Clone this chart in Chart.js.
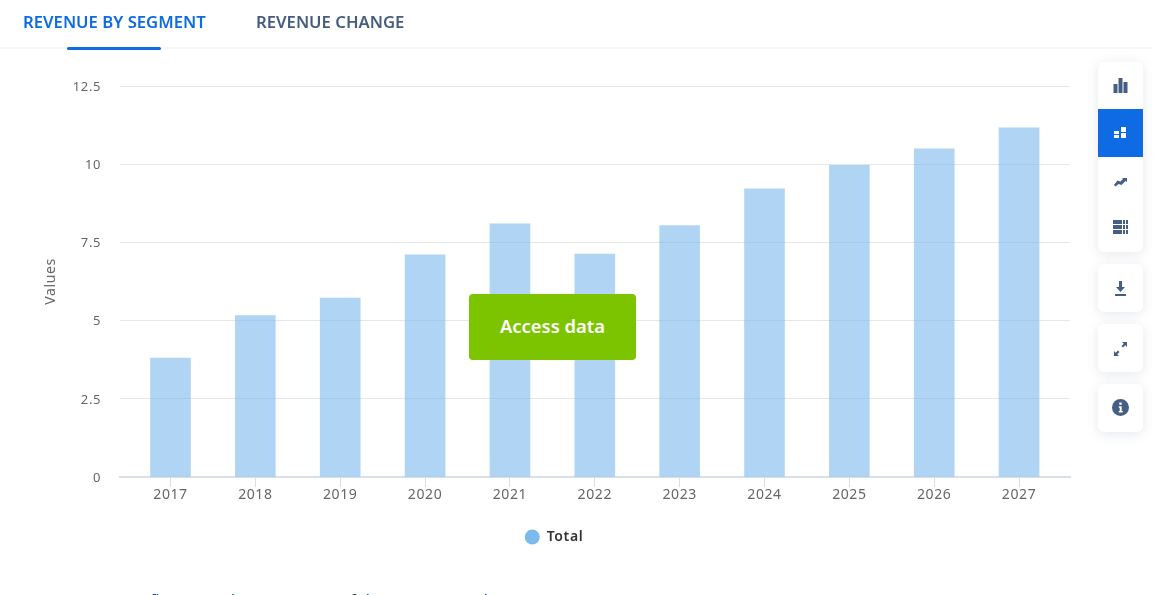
<!DOCTYPE html>
<html>
<head>
<meta charset="utf-8">
<script src="https://cdn.jsdelivr.net/npm/chart.js@4/dist/chart.umd.min.js"></script>
<style>
html, body { margin: 0; padding: 0; background: #fff; overflow: hidden; height: 595px; font-family: "Noto Sans", sans-serif; }
#wrap { position: relative; width: 1153px; height: 595px; overflow: hidden; }
#myChart { position: absolute; left: 0; top: 0; }
.tab { position: absolute; top: 11px; font-size: 16.7px; font-weight: 600; line-height: 22px; white-space: nowrap; }
#tabline { position: absolute; left: 0; top: 47px; width: 1153px; height: 2px; background: #f5f7fb; }
#tabmark { position: absolute; left: 67px; top: 47px; width: 94px; height: 3px; border-radius: 2px; background: #0f6be3; }
.card { position: absolute; left: 1098px; width: 45px; background: #fff; border-radius: 6px; box-shadow: 0 2px 12px rgba(70,90,130,.14); overflow: hidden; }
.btn { position: absolute; left: 0; width: 45px; height: 48px; }
.btn svg { position: absolute; left: 14px; width: 17px; height: 17px; fill: #455f84; }
#access { position: absolute; left: 469px; top: 294px; width: 167px; height: 66px; background: #7dc400; border-radius: 4px; color: #fff; font-size: 18.4px; font-weight: 600; line-height: 64px; text-align: center; }
#below { position: absolute; left: 150px; top: 588px; font-size: 16px; line-height: 24px; color: #1c3f73; white-space: nowrap; }
</style>
</head>
<body>
<div id="wrap">
  <canvas id="myChart" width="1153" height="595"></canvas>
  <div id="tabline"></div>
  <div id="tabmark"></div>
  <div class="tab" style="left:23px;color:#0f6be3">REVENUE BY SEGMENT</div>
  <div class="tab" style="left:256px;color:#465d80">REVENUE CHANGE</div>

  <div class="card" style="top:62px;height:190px">
    <div class="btn" style="top:0"><svg viewBox="0 0 17 17" style="top:15px"><path d="M1.500 7h4v9h-4zM6.500 1h4v15h-4zM11.500 5h4v11h-4z"/></svg></div>
    <div class="btn" style="top:47px;background:#0f6be3"><svg viewBox="0 0 17 17" style="top:16px;fill:#fff"><path d="M2 6h5v3H2zM2 10h5v3H2zM9 2h5v5H9zM9 8h5v5H9z"/></svg></div>
    <div class="btn" style="top:95px"><svg viewBox="0 0 17 17" style="top:15px"><path d="M2 13l3.500-4.500 3 1 2.500-2.500-1-1h5v4l-1.500-1-4 4-3-1-3 2.500z"/></svg></div>
    <div class="btn" style="top:143px"><svg viewBox="0 0 17 17" style="top:14px"><path d="M1 1h9v4H1zM11 1h2v4h-2zM14 1h2v4h-2zM1 6h9v4H1zM11 6h2v4h-2zM14 6h2v4h-2zM1 11h9v4H1zM11 11h2v4h-2zM14 11h2v4h-2z"/></svg></div>
  </div>
  <div class="card" style="top:264px;height:48px">
    <div class="btn" style="top:0"><svg viewBox="0 0 17 17" style="top:16px"><path d="M7 1h3v6h3l-4.500 5L4 7h3zM3 14h11v2H3z"/></svg></div>
  </div>
  <div class="card" style="top:324px;height:48px">
    <div class="btn" style="top:0"><svg viewBox="0 0 17 17" style="top:16px"><path d="M10 2h5v5l-1.700-1.700-2.300 2.300-1.500-1.500 2.300-2.300zM7 16H2v-5l1.700 1.700 2.300-2.300 1.500 1.500-2.300 2.300z"/></svg></div>
  </div>
  <div class="card" style="top:384px;height:48px">
    <div class="btn" style="top:0"><svg viewBox="0 0 17 17" style="top:15px"><path fill-rule="evenodd" d="M8.500 0a8.500 8.500 0 1 0 0 17a8.500 8.500 0 0 0 0-17zM7.300 3.500h2.400v2.300H7.300zM6.800 7.300h2.900v4.700h1v1.500H6.800V12h.9V8.800h-.9z"/></svg></div>
  </div>

  <div id="access">Access data</div>
  <div id="below">figures and revenues are of the segment and</div>
</div>
<script>
var years = [2017, 2018, 2019, 2020, 2021, 2022, 2023, 2024, 2025, 2026, 2027];
var totalValues = [3.8, 5.16, 5.72, 7.1, 8.09, 7.13, 8.04, 9.21, 9.96, 10.49, 11.16];
var yTicks = [0, 2.5, 5, 7.5, 10, 12.5];
var seriesName = "Total";
var axisTitle = "Values";

// letter spacing of the axis text, Chart.js has no option for it
var spacedText = {
	id: "spacedText",
	beforeDraw: function(chart){ chart.ctx.letterSpacing = "0.6px"; }
};

var ctx = document.getElementById("myChart");
var chartInstance = new Chart(ctx, {
	type: "bar",
	data: {
		datasets: [{
			label: seriesName,
			data: years.map(function(y, i){ return {x: y, y: totalValues[i]}; }),
			backgroundColor: "rgba(124,185,236,0.6)",
			borderWidth: 0,
			barThickness: 40
		}]
	},
	options: {
		responsive: false,
		animation: false,
		layout: {padding: {left: 35, right: 83, top: 86, bottom: 41}},
		scales: {
			x: {
				type: "linear",
				offset: false,
				min: 2016.405,
				max: 2027.6,
				afterBuildTicks: function(axis){
					axis.ticks = years.map(function(y){ return {value: y}; });
				},
				afterFit: function(axis){ axis.height = 43; },
				grid: {display: true, offset: false, drawOnChartArea: false, drawTicks: true, tickLength: 10, tickColor: "#d5deee"},
				border: {color: "#d9dfec", width: 2},
				ticks: {
					color: "#666",
					padding: 0,
					font: {family: "Noto Sans", size: 14},
					maxRotation: 0,
					autoSkip: false,
					callback: function(v){ return String(v); }
				}
			},
			y: {
				min: 0,
				max: 12.5,
				afterBuildTicks: function(axis){
					axis.ticks = yTicks.map(function(v){ return {value: v}; });
				},
				afterFit: function(axis){ axis.width = 85; },
				grid: {color: "#e6e6e6", lineWidth: 1, drawTicks: false},
				border: {display: false},
				title: {display: true, text: axisTitle, color: "#666", font: {family: "Noto Sans", size: 14}, padding: {top: 8, bottom: 0}},
				ticks: {
					color: "#666",
					padding: 19,
					labelOffset: 1,
					font: {family: "Noto Sans", size: 13},
					callback: function(v){ return String(v); }
				}
			}
		},
		plugins: {
			legend: {
				position: "bottom",
				labels: {
					usePointStyle: true,
					pointStyle: "circle",
					pointStyleWidth: 15,
					boxHeight: 10.6,
					color: "#333",
					font: {family: "Noto Sans", size: 14, weight: "600"},
					generateLabels: function(chart){
						return [{text: seriesName, fillStyle: "#7cb9ec", strokeStyle: "#7cb9ec", lineWidth: 0, pointStyle: "circle", fontColor: "#333"}];
					}
				}
			},
			tooltip: {enabled: false}
		}
	},
	plugins: [spacedText]
});
</script>
</body>
</html>
